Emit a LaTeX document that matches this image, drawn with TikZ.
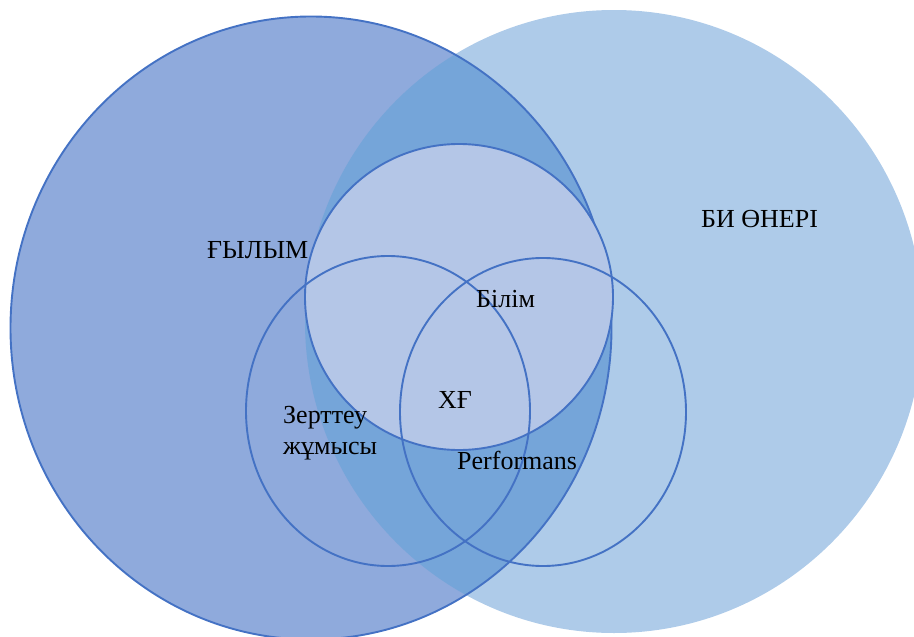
\documentclass[tikz,border=0pt]{standalone}
\usepackage{fontspec}
\setmainfont{Liberation Serif}
\usepackage{tikz}
\usetikzlibrary{positioning}
\definecolor{ringblue}{HTML}{4472C4}
\definecolor{scifill}{HTML}{8FAADC}
\definecolor{artfill}{HTML}{AECBE9}
\definecolor{bothfill}{HTML}{75A5D9}
\definecolor{knowfill}{HTML}{B4C6E7}

\begin{document}
\begin{tikzpicture}[x=1pt, y=-1pt,
  ring/.style={draw=ringblue, line width=1.9pt},
  lbl/.style={inner sep=0pt, font=\fontsize{26}{31}\selectfont}]
\useasboundingbox (0,0) rectangle (914,637);
\clip (0,0) rectangle (914,637);
% big sets
\fill[artfill] (614,321.5) ellipse [x radius=309pt, y radius=311.5pt];
\fill[scifill] (311,328) ellipse [x radius=300.5pt, y radius=311.5pt];
\begin{scope}
  \clip (311,328) ellipse [x radius=300.5pt, y radius=311.5pt];
  \fill[bothfill] (614,321.5) ellipse [x radius=309pt, y radius=311.5pt];
\end{scope}
\draw[ring] (311,328) ellipse [x radius=300.5pt, y radius=311.5pt];
% small sets
\draw[ring, fill=knowfill] (459,297) ellipse [x radius=154pt, y radius=153pt];
\draw[ring] (388,411) ellipse [x radius=142pt, y radius=155pt];
\draw[ring] (543,412) ellipse [x radius=143pt, y radius=154pt];
% labels
\node[lbl, anchor=base west] (gylym) at (207,258) {ҒЫЛЫМ};
\node[lbl, anchor=base west] (oner) at (701,227) {БИ ӨНЕРІ};
\node[lbl, anchor=base west] (bilim) at (476,307) {Білім};
\node[lbl, anchor=base west] (xg) at (438,408) {ХҒ};
\node[lbl, anchor=north west, align=left] (zert) at (283,406) {Зерттеу\\жұмысы};
\node[lbl, anchor=base west] (perf) at (457,469) {Performans};
\end{tikzpicture}
\end{document}
